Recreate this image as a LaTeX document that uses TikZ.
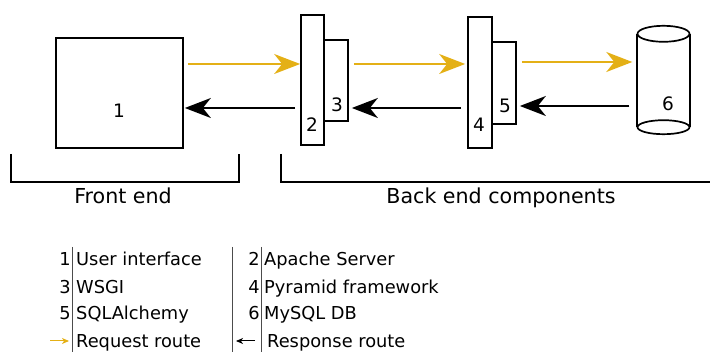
\documentclass[tikz,border=0pt]{standalone}
\usepackage{fontspec}
\setmainfont{DejaVu Sans}
\usetikzlibrary{arrows.meta}
\definecolor{reqyellow}{RGB}{228,176,22}

\begin{document}
\begin{tikzpicture}[x=1pt,y=-1pt,
  block/.style={draw,line width=1.7pt,inner sep=0pt},
  req/.style={draw=reqyellow,line width=1.9pt,
    -{Stealth[length=26pt,width=20pt,inset=8pt]}},
  resp/.style={draw=black,line width=1.9pt,
    -{Stealth[length=26pt,width=20pt,inset=8pt]}},
  num/.style={anchor=base,font=\fontsize{18.5}{20}\selectfont,inner sep=0pt},
  head/.style={anchor=base,font=\fontsize{20.6}{22}\selectfont,inner sep=0pt},
  key/.style={font=\fontsize{17.8}{19}\selectfont,inner sep=0pt},
  sep/.style={draw=black!70,line width=1pt}]
  \useasboundingbox (0,0) rectangle (710,352);

  % Components
  \node[block,minimum width=127pt,minimum height=110pt] (ui) at (119.5,93) {};
  \node[block,minimum width=23pt,minimum height=130pt] (apache) at (312.5,80) {};
  \node[block,minimum width=24pt,minimum height=81pt] (wsgi) at (336,80.5) {};
  \node[block,minimum width=24pt,minimum height=131pt] (pyramid) at (480,82.5) {};
  \node[block,minimum width=24pt,minimum height=82pt] (sqla) at (504,83) {};
  \node[inner sep=0pt,minimum width=52pt,minimum height=93pt] (db) at (663.5,80.5) {};

  % Database cylinder
  \draw[line width=1.7pt] (db.north) ellipse[x radius=26,y radius=8];
  \draw[line width=1.7pt] (db.south) ellipse[x radius=26,y radius=7];
  \draw[line width=1.7pt] (db.north west) -- (db.south west);
  \draw[line width=1.7pt] (db.north east) -- (db.south east);

  % Numbers
  \node[num] (n1) at (119,118) {1};
  \node[num] (n2) at (312,132) {2};
  \node[num] (n3) at (337,112) {3};
  \node[num] (n4) at (479,132) {4};
  \node[num] (n5) at (505,113) {5};
  \node[num] (n6) at (668,111) {6};

  % Routes
  \coordinate (up) at (0,64);
  \coordinate (upr) at (0,62);
  \coordinate (down) at (0,108);
  \coordinate (downr) at (0,106);
  \draw[req,shorten <=4pt] (ui.east |- up) -- (apache.west |- up);
  \draw[req,shorten <=5pt,shorten >=2pt] (wsgi.east |- up) -- (pyramid.west |- up);
  \draw[req,shorten <=5pt,shorten >=5pt] (sqla.east |- upr) -- (db.west |- upr);
  \draw[resp,shorten <=5pt,shorten >=1pt] (apache.west |- down) -- (ui.east |- down);
  \draw[resp,shorten <=6pt,shorten >=3pt] (pyramid.west |- down) -- (wsgi.east |- down);
  \draw[resp,shorten <=8pt,shorten >=3pt] (db.west |- downr) -- (sqla.east |- downr);

  % Brackets
  \draw[line width=1.3pt] (11,154) -- (11,182) -- (239,182) -- (239,154);
  \draw[line width=1.3pt] (281,154) -- (281,182) -- (710,182);
  \node[head] (front) at (123,204) {Front end};
  \node[head] (back) at (501,204) {Back end components};

  % Legend
  \draw[sep] (72,247) -- (72,352);
  \draw[sep] (232,247) -- (232,352);
  \draw[sep] (261,247) -- (261,352);
  \foreach \n/\txt/\y in {1/User interface/266,3/WSGI/294,5/SQLAlchemy/320} {
    \node[key,anchor=base east] (l\n) at (71,\y) {\n};
    \node[key,anchor=base west] (t\n) at (76,\y) {\txt};
  }
  \foreach \n/\txt/\y in {2/Apache Server/266,4/Pyramid framework/294,6/MySQL DB/320} {
    \node[key,anchor=base east] (l\n) at (260,\y) {\n};
    \node[key,anchor=base west] (t\n) at (264,\y) {\txt};
  }
  \coordinate (reqa) at (50,341);
  \coordinate (reqb) at (69,341);
  \coordinate (respa) at (255,341);
  \coordinate (respb) at (236,341);
  \draw[draw=reqyellow,line width=1pt,-{Stealth[length=7pt,width=6pt,inset=2pt]}] (reqa) -- (reqb);
  \draw[line width=1pt,-{Stealth[length=7pt,width=6pt,inset=2pt]}] (respa) -- (respb);
  \node[key,anchor=base west] (treq) at (76,348) {Request route};
  \node[key,anchor=base west] (tresp) at (267,348) {Response route};
\end{tikzpicture}
\end{document}
